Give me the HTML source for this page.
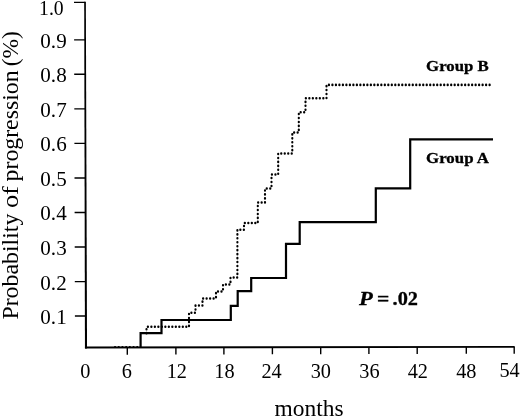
<!DOCTYPE html>
<html><head><meta charset="utf-8"><title>Probability of progression</title>
<style>
html,body{margin:0;padding:0;background:#fff;}
body{width:520px;height:418px;overflow:hidden;}
svg{display:block;}
text{font-family:"Liberation Serif",serif;fill:#000;}
.tk{font-size:20.3px;}
.b{font-weight:bold;}
</style></head><body>
<svg width="520" height="418" viewBox="0 0 520 418">
<rect width="520" height="418" fill="#fff"/>
<!-- axes -->
<g stroke="#000" fill="none">
<path d="M84.2 1.7H85.85L87.05 348.55H84.95Z" fill="#000" stroke="none"/>
<path d="M84.95 346.45L514.7 346V347.8L84.95 348.55Z" fill="#000" stroke="none"/>
<g stroke-width="1.4">
<path d="M74.0 2.4H85.2M74.1 39.9H85.3M74.2 74.3H85.4M74.3 108.9H85.5M74.4 143.4H85.6M74.5 178H85.7M74.6 212.5H85.8M74.7 247H85.9M74.8 281.6H86.0M74.9 316H86.1"/>
<path d="M127.3 347.5V354.7M175.9 347.5V354.6M223.9 347.4V354.5M272.4 347.3V354.3M320.7 347.3V354.2M368.9 347.2V354.1M417.2 347.1V354.0M466.3 347.1V353.8M514.2 347.0V353.7"/>
</g>
</g>
<!-- y tick labels -->
<g class="tk" text-anchor="end">
<text transform="translate(63.7 14.6) scale(0.97 1.04)">1.0</text>
<text transform="translate(66.7 47.8) scale(1.04 1.035)">0.9</text>
<text transform="translate(66.7 82.2) scale(1.04 1.035)">0.8</text>
<text transform="translate(66.7 116.8) scale(1.04 1.035)">0.7</text>
<text transform="translate(66.7 151.3) scale(1.04 1.035)">0.6</text>
<text transform="translate(66.7 185.9) scale(1.04 1.035)">0.5</text>
<text transform="translate(66.7 220.4) scale(1.04 1.035)">0.4</text>
<text transform="translate(66.7 254.9) scale(1.04 1.035)">0.3</text>
<text transform="translate(66.7 289.5) scale(1.04 1.035)">0.2</text>
<text transform="translate(66.7 323.9) scale(1.04 1.035)">0.1</text>
</g>
<!-- x tick labels -->
<g class="tk" text-anchor="middle">
<text x="85.3" y="378.1">0</text>
<text x="126.8" y="378.0">6</text>
<text x="176.8" y="378.0">12</text>
<text x="224.4" y="377.9">18</text>
<text x="271.6" y="377.8">24</text>
<text x="320.8" y="377.7">30</text>
<text x="369.4" y="377.6">36</text>
<text x="417.8" y="377.6">42</text>
<text x="466.3" y="377.5">48</text>
<text x="509.6" y="377.4">54</text>
</g>
<text x="274.6" y="416.4" font-size="22.6" textLength="69" lengthAdjust="spacingAndGlyphs">months</text>
<text transform="translate(17.8 319.6) rotate(-90)" font-size="22.6"><tspan x="0" textLength="106" lengthAdjust="spacingAndGlyphs">Probability</tspan> <tspan x="111.5" textLength="22" lengthAdjust="spacingAndGlyphs">of</tspan> <tspan x="138.2" textLength="111" lengthAdjust="spacingAndGlyphs">progression</tspan> <tspan x="253.3" textLength="35" lengthAdjust="spacingAndGlyphs">(%)</tspan></text>
<!-- Group B dotted -->
<path d="M115 346.9H140" fill="none" stroke="#000" stroke-width="2" stroke-linecap="round" stroke-dasharray="0.1 3.6"/>
<path transform="scale(0.944 1.069)" d="M155.19 311.69V305.71H200.21V292.61H207.10V285.78H214.51V279.14H228.81V272.68H236.23V266.23H244.17V259.68H251.48V214.97H258.47V208.61H273.09V189.43H280.72V176.33H287.61V163.33H294.70V143.59H309.64V123.95H316.53V104.96H323.62V91.96H345.87V79.4H522.25" fill="none" stroke="#000" stroke-width="2.35" stroke-linecap="round" stroke-dasharray="0.1 3.6"/>
<!-- Group A solid -->
<path d="M140.6 347.6V333.2H161.5V320H230.8V305.8H237.7V291.2H251.2V278H286V243.8H299.7V222.2H375.8V188.4H410.2V139.4H493" fill="none" stroke="#000" stroke-width="2.2" stroke-linejoin="miter"/>
<text class="b" transform="translate(426.1 71.1) scale(1.09 1)" font-size="15.4" stroke="#000" stroke-width="0.3">Group B</text>
<text class="b" transform="translate(426.1 163.1) scale(1.095 1)" font-size="15.4" stroke="#000" stroke-width="0.3">Group A</text>
<text class="b" y="305" font-size="18.8" stroke="#000" stroke-width="0.3"><tspan x="358.9" font-style="italic" textLength="13.78" lengthAdjust="spacingAndGlyphs">P</tspan> <tspan x="376.9" textLength="12.32" lengthAdjust="spacingAndGlyphs">=</tspan> <tspan x="392.6" textLength="25.38" lengthAdjust="spacingAndGlyphs">.02</tspan></text>
</svg>
</body></html>
